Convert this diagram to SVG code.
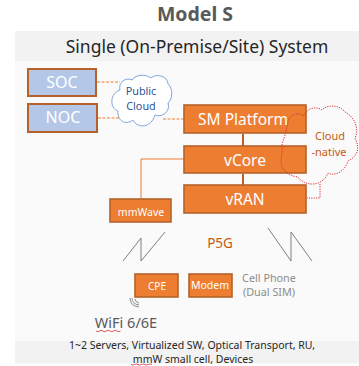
<svg xmlns="http://www.w3.org/2000/svg" width="359" height="366" viewBox="0 0 359 366">
<style>
text{font-family:"Noto Sans","Open Sans",sans-serif;text-anchor:middle}
.o{fill:#ed7d31;stroke:#b5622a;stroke-width:1.600}
.b{fill:#b4c7e7;stroke:#b5622a;stroke-width:2}
.w{fill:#fff}
.c{fill:none;stroke:#ed7d31;stroke-width:1}
.d{stroke-dasharray:3 1.500}
.s{fill:none;stroke:#b5622a;stroke-width:2}
.z{fill:none;stroke:#7f7f7f;stroke-width:1}
.r{fill:none;stroke:#d9303a;stroke-width:1;stroke-dasharray:1.200 1.200}
.q{fill:none;stroke:#e0555f;stroke-width:1}
</style>
<rect width="359" height="366" fill="#fff"/>
<rect x="15" y="31" width="344" height="333" fill="#fafafa"/>
<rect x="15" y="31" width="344" height="30" fill="#f2f2f2"/>
<rect x="15" y="341" width="344" height="22" fill="#f2f2f2"/>
<text x="195" y="21" font-size="19.500" font-weight="700" fill="#595959">Model S</text>
<text x="197" y="53" font-size="17.500" fill="#262626">Single (On-Premise/Site) System</text>
<g id="connectors">
<path class="c d" d="M97 82H120M98 118H120M163 119H184"/>
<path class="c" d="M141 159V198M141 159H184"/>
<path class="s" d="M243 134V146M243 174V185"/>
<path class="r" d="M320 184V198H306"/>
<path class="z" d="M123 261L141 238V261L165 232"/>
<path class="z" d="M268 228L291 261V232L312 261"/>
</g>
<g id="soc"><rect class="b" x="28" y="69" width="68" height="27"/><text class="w" x="62" y="88" font-size="16">SOC</text></g>
<g id="noc"><rect class="b" x="28" y="104" width="69" height="28"/><text class="w" x="63" y="123" font-size="16">NOC</text></g>
<g id="public-cloud">
<path d="M120 90C118 82 126 77 132 80C136 74 146 74 151 78C156 73 168 76 168 84C173 88 173 99 168 103C171 112 161 118 155 115C151 128 138 129 133 120C125 126 117 120 118 111C109 108 110 93 120 90Z" fill="#fff" stroke="#7ea6dc" stroke-width="1"/>
<text x="141" y="95" font-size="10.800" fill="#2f5597">Public</text>
<text x="141" y="110" font-size="10.800" fill="#2f5597">Cloud</text>
</g>
<g id="sm-platform"><rect class="o" x="184" y="105" width="122" height="28"/><text class="w" x="243" y="125" font-size="15.500">SM Platform</text></g>
<g id="vcore"><rect class="o" x="184" y="146" width="122" height="27"/><text class="w" x="245" y="166" font-size="15.500">vCore</text></g>
<g id="vran"><rect class="o" x="184" y="185" width="122" height="28"/><text class="w" x="245" y="205" font-size="15.500">vRAN</text></g>
<g id="cloud-native">
<path class="r" d="M288 122C290 114 298 112 304 116C308 106 318 107 322 110C328 104 340 105 345 112C356 118 359 130 355 138C360 148 358 156 348 161C344 174 332 176 328 173C322 188 304 186 298 177C290 176 284 172 281 165C281 156 283 148 282 144C285 136 287 128 288 122Z"/>
<text x="330" y="140" font-size="11" fill="#c55a11">Cloud</text>
<text x="329" y="156" font-size="11" fill="#c55a11">-native</text>
</g>
<g id="mmwave"><rect class="o" x="110" y="199" width="61" height="23"/><text class="w" x="141" y="216" font-size="10.500">mmWave</text></g>
<text x="220" y="248" font-size="13.500" fill="#c55a11">P5G</text>
<g id="cpe"><rect class="o" x="135" y="274" width="43" height="23"/><text class="w" x="157" y="290" font-size="10">CPE</text></g>
<g id="modem"><rect class="o" x="189" y="274" width="43" height="23"/><text class="w" x="210" y="289" font-size="10.500">Modem</text></g>
<text x="269" y="282" font-size="10.800" fill="#8c8c8c">Cell Phone</text>
<text x="269" y="296" font-size="10.800" fill="#8c8c8c">(Dual SIM)</text>
<g id="wifi-icon" fill="none" stroke="#8c8c8c" stroke-width="1">
<path d="M130 298Q130 306 139 307M132 298Q132 304 139 305M135 299Q135 302 139 303"/>
</g>
<text x="126" y="328" font-size="14.500" fill="#595959">WiFi 6/6E</text>
<path class="q" d="M96 331q2 1.500 3.500 0t3.500 0t3.500 0t3.500 0t3.500 0t3.500 0t3.500 0"/>
<text x="192" y="349" font-size="10.500" fill="#262626">1~2 Servers, Virtualized SW, Optical Transport, RU,</text>
<text x="193" y="362.500" font-size="10.500" fill="#262626">mmW small cell, Devices</text>
<path class="q" d="M131 364.500q2 1 3.500 0t3.500 0t3.500 0t3.500 0t3.500 0t3.500 0"/>
</svg>
